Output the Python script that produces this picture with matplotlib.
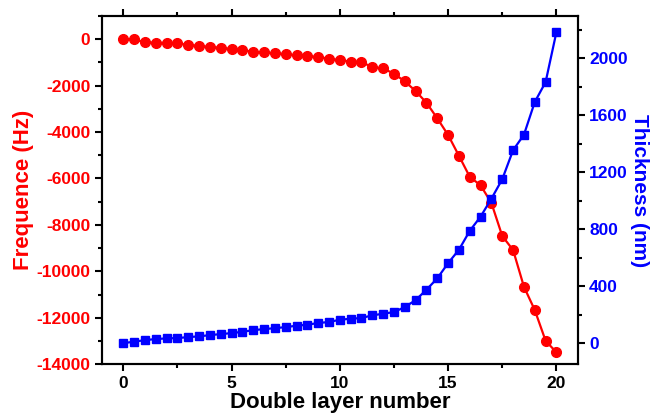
import numpy as np
import matplotlib.pyplot as plt
from matplotlib.ticker import MultipleLocator

plt.rcParams['font.family'] = ['Liberation Sans', 'DejaVu Sans']
plt.rcParams['font.weight'] = 'bold'
plt.rcParams['axes.unicode_minus'] = False

# double layer number, 0 to 20 in half steps
layers = np.arange(0, 20.5, 0.5)

# frequency shift (Hz)
frequence = [0, -10, -145, -150, -172, -180, -258, -287, -344, -373,
             -430, -488, -545, -574, -617, -645, -703, -731, -774, -846,
             -904, -975, -980, -1218, -1261, -1493, -1820, -2238, -2741, -3412,
             -4130, -5025, -5930, -6295, -7057, -8477, -9080, -10658, -11660, -12982,
             -13481]

# film thickness (nm)
thickness = [0, 9, 21, 28, 33, 35, 42, 47, 56, 63,
             70, 79, 91, 98, 105, 112, 122, 129, 141, 148,
             164, 171, 176, 195, 206, 218, 253, 302, 375, 455,
             562, 656, 789, 889, 1015, 1152, 1356, 1464, 1694, 1834,
             2186]

red = '#ff0000'
blue = '#0000ff'

fig = plt.figure(figsize=(6.51, 4.16), dpi=100)
ax1 = fig.add_axes([0.156, 0.124, 0.732, 0.838])
ax2 = ax1.twinx()

ax1.plot(layers, frequence, '-o', color=red, lw=1.6, ms=7, mec=red)
ax2.plot(layers, thickness, '-s', color=blue, lw=1.6, ms=6, mec=blue)

ax1.set_xlim(-1, 21)
ax1.set_ylim(-14000, 1000)
ax2.set_ylim(-150, 2300)

ax1.xaxis.set_major_locator(MultipleLocator(5))
ax1.xaxis.set_minor_locator(MultipleLocator(2.5))
ax1.yaxis.set_major_locator(MultipleLocator(2000))
ax1.yaxis.set_minor_locator(MultipleLocator(1000))
ax2.yaxis.set_major_locator(MultipleLocator(400))
ax2.yaxis.set_minor_locator(MultipleLocator(200))

for ax in (ax1, ax2):
    for s in ax.spines.values():
        s.set_linewidth(1.5)
    ax.tick_params(which='major', direction='out', length=5, width=1.5, labelsize=12.5, pad=3)
    ax.tick_params(which='minor', direction='out', length=3, width=1.5)

ax1.tick_params(axis='x', which='both', top=True)
ax1.tick_params(axis='y', which='both', right=False, labelcolor=red)
ax2.tick_params(axis='y', which='both', labelcolor=blue)

ax1.set_xlabel('Double layer number', fontsize=16, fontweight='bold', labelpad=1)
ax1.set_ylabel('Frequence (Hz)', fontsize=16, fontweight='bold', color=red, labelpad=2)
ax2.set_ylabel('Thickness (nm)', fontsize=15, fontweight='bold', color=blue,
               rotation=270, labelpad=15)

fig.savefig('out.png', dpi=100)
